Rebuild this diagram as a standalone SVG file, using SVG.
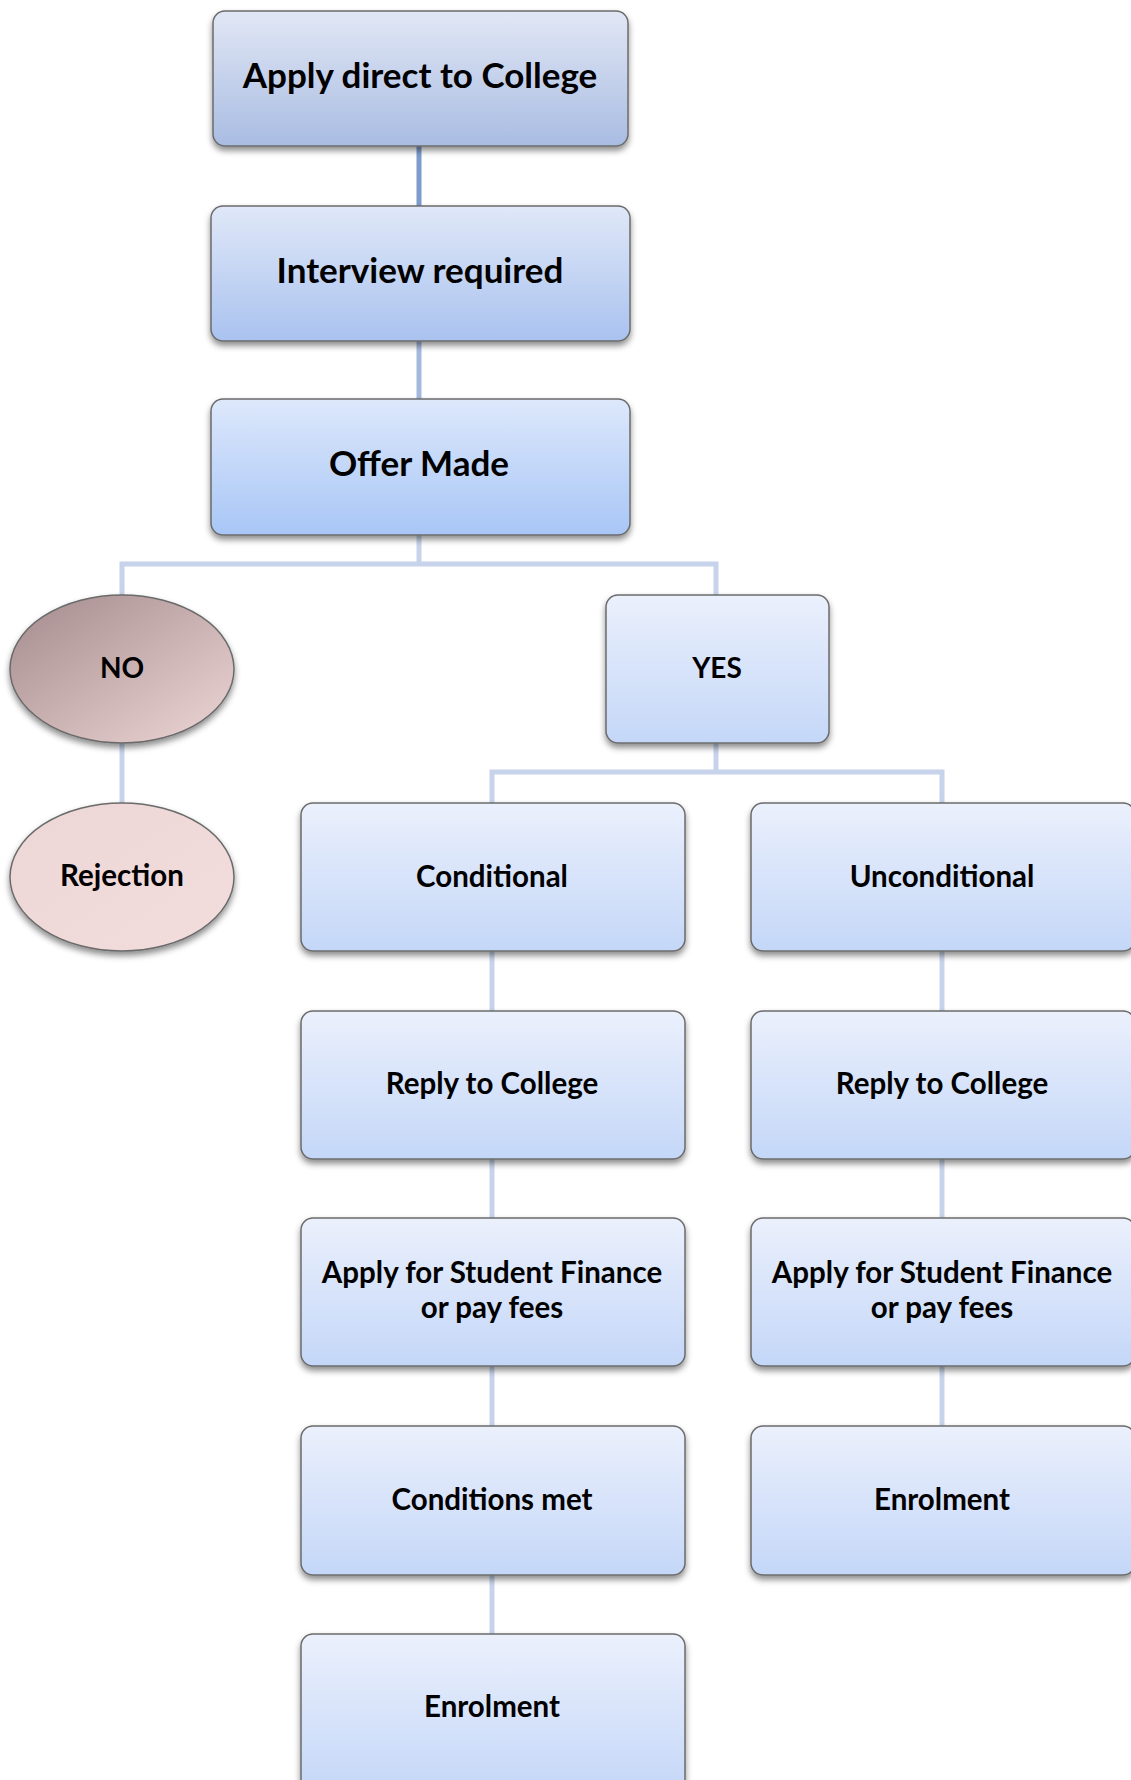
<svg xmlns="http://www.w3.org/2000/svg" width="1131" height="1780" viewBox="0 0 1131 1780">
<style>
.t{font-family:Lato,"Open Sans","Liberation Sans",sans-serif;font-weight:bold;fill:#000;text-anchor:middle}
.big{font-size:35px}
.sm{font-size:29.5px}
.xs{font-size:28px}
.box{stroke:#6b6b6b;stroke-width:1.5}
.c{stroke-width:5;fill:none;stroke:#c6d3ea}
</style>
<defs>
<linearGradient id="g1" x1="0" y1="0" x2="0" y2="1"><stop offset="0" stop-color="#e1e7f5"/><stop offset="1" stop-color="#a9bce2"/></linearGradient>
<linearGradient id="g2" x1="0" y1="0" x2="0" y2="1"><stop offset="0" stop-color="#e0e8f8"/><stop offset="1" stop-color="#a9c2ef"/></linearGradient>
<linearGradient id="g3" x1="0" y1="0" x2="0" y2="1"><stop offset="0" stop-color="#dde8fb"/><stop offset="1" stop-color="#a8c6f6"/></linearGradient>
<linearGradient id="g4" x1="0" y1="0" x2="0" y2="1"><stop offset="0" stop-color="#ebf0fc"/><stop offset="1" stop-color="#c4d7f8"/></linearGradient>
<linearGradient id="gNo" x1="0" y1="0" x2="1" y2="1"><stop offset="0" stop-color="#a38a8c"/><stop offset="1" stop-color="#efd6d6"/></linearGradient>
<linearGradient id="gRej" x1="0" y1="0" x2="1" y2="1"><stop offset="0" stop-color="#ecd6d6"/><stop offset="1" stop-color="#f2dddc"/></linearGradient>
<filter id="sh" x="-10%" y="-10%" width="120%" height="130%"><feDropShadow dx="0" dy="4" stdDeviation="3" flood-color="#000" flood-opacity="0.45"/></filter>
</defs>
<g id="connectors">
<line class="c" x1="419" y1="146" x2="419" y2="206" style="stroke:#7d9bcd"/>
<line class="c" x1="419" y1="341" x2="419" y2="399" style="stroke:#a5b9df"/>
<polyline class="c" points="419,535 419,564"/>
<polyline class="c" points="122,595 122,564 716,564 716,595"/>
<line class="c" x1="122" y1="743" x2="122" y2="803"/>
<polyline class="c" points="716,743 716,772"/>
<polyline class="c" points="492,803 492,772 942,772 942,803"/>
<line class="c" x1="492" y1="951" x2="492" y2="1011"/>
<line class="c" x1="492" y1="1159" x2="492" y2="1218"/>
<line class="c" x1="492" y1="1366" x2="492" y2="1426"/>
<line class="c" x1="492" y1="1575" x2="492" y2="1634"/>
<line class="c" x1="942" y1="951" x2="942" y2="1011"/>
<line class="c" x1="942" y1="1159" x2="942" y2="1218"/>
<line class="c" x1="942" y1="1366" x2="942" y2="1426"/>
</g>
<g id="n-apply">
<rect class="box" x="213" y="11" width="415" height="135" rx="12" fill="url(#g1)" filter="url(#sh)"/>
<text class="t big" x="420" y="88">Apply direct to College</text>
</g>
<g id="n-interview">
<rect class="box" x="211" y="206" width="419" height="135" rx="12" fill="url(#g2)" filter="url(#sh)"/>
<text class="t big" x="420" y="283">Interview required</text>
</g>
<g id="n-offer">
<rect class="box" x="211" y="399" width="419" height="136" rx="12" fill="url(#g3)" filter="url(#sh)"/>
<text class="t big" x="419" y="476">Offer Made</text>
</g>
<g id="n-no">
<ellipse class="box" cx="122" cy="669" rx="112" ry="74" fill="url(#gNo)" filter="url(#sh)"/>
<text class="t xs" x="122" y="678">NO</text>
</g>
<g id="n-rejection">
<ellipse class="box" cx="122" cy="877" rx="112" ry="74" fill="url(#gRej)" filter="url(#sh)"/>
<text class="t sm" x="122" y="886">Rejection</text>
</g>
<g id="n-yes">
<rect class="box" x="606" y="595" width="223" height="148" rx="12" fill="url(#g4)" filter="url(#sh)"/>
<text class="t xs" x="717" y="678">YES</text>
</g>
<g id="n-conditional">
<rect class="box" x="301" y="803" width="384" height="148" rx="12" fill="url(#g4)" filter="url(#sh)"/>
<text class="t sm" x="492" y="887">Conditional</text>
</g>
<g id="n-reply1">
<rect class="box" x="301" y="1011" width="384" height="148" rx="12" fill="url(#g4)" filter="url(#sh)"/>
<text class="t sm" x="492" y="1094">Reply to College</text>
</g>
<g id="n-finance1">
<rect class="box" x="301" y="1218" width="384" height="148" rx="12" fill="url(#g4)" filter="url(#sh)"/>
<text class="t sm" x="492" y="1283">Apply for Student Finance</text>
<text class="t sm" x="492" y="1318">or pay fees</text>
</g>
<g id="n-conditions">
<rect class="box" x="301" y="1426" width="384" height="149" rx="12" fill="url(#g4)" filter="url(#sh)"/>
<text class="t sm" x="492" y="1510">Conditions met</text>
</g>
<g id="n-enrol1">
<rect class="box" x="301" y="1634" width="384" height="160" rx="12" fill="url(#g4)" filter="url(#sh)"/>
<text class="t sm" x="492" y="1717">Enrolment</text>
</g>
<g id="n-unconditional">
<rect class="box" x="751" y="803" width="384" height="148" rx="12" fill="url(#g4)" filter="url(#sh)"/>
<text class="t sm" x="942" y="887">Unconditional</text>
</g>
<g id="n-reply2">
<rect class="box" x="751" y="1011" width="384" height="148" rx="12" fill="url(#g4)" filter="url(#sh)"/>
<text class="t sm" x="942" y="1094">Reply to College</text>
</g>
<g id="n-finance2">
<rect class="box" x="751" y="1218" width="384" height="148" rx="12" fill="url(#g4)" filter="url(#sh)"/>
<text class="t sm" x="942" y="1283">Apply for Student Finance</text>
<text class="t sm" x="942" y="1318">or pay fees</text>
</g>
<g id="n-enrol2">
<rect class="box" x="751" y="1426" width="384" height="149" rx="12" fill="url(#g4)" filter="url(#sh)"/>
<text class="t sm" x="942" y="1510">Enrolment</text>
</g>
</svg>
